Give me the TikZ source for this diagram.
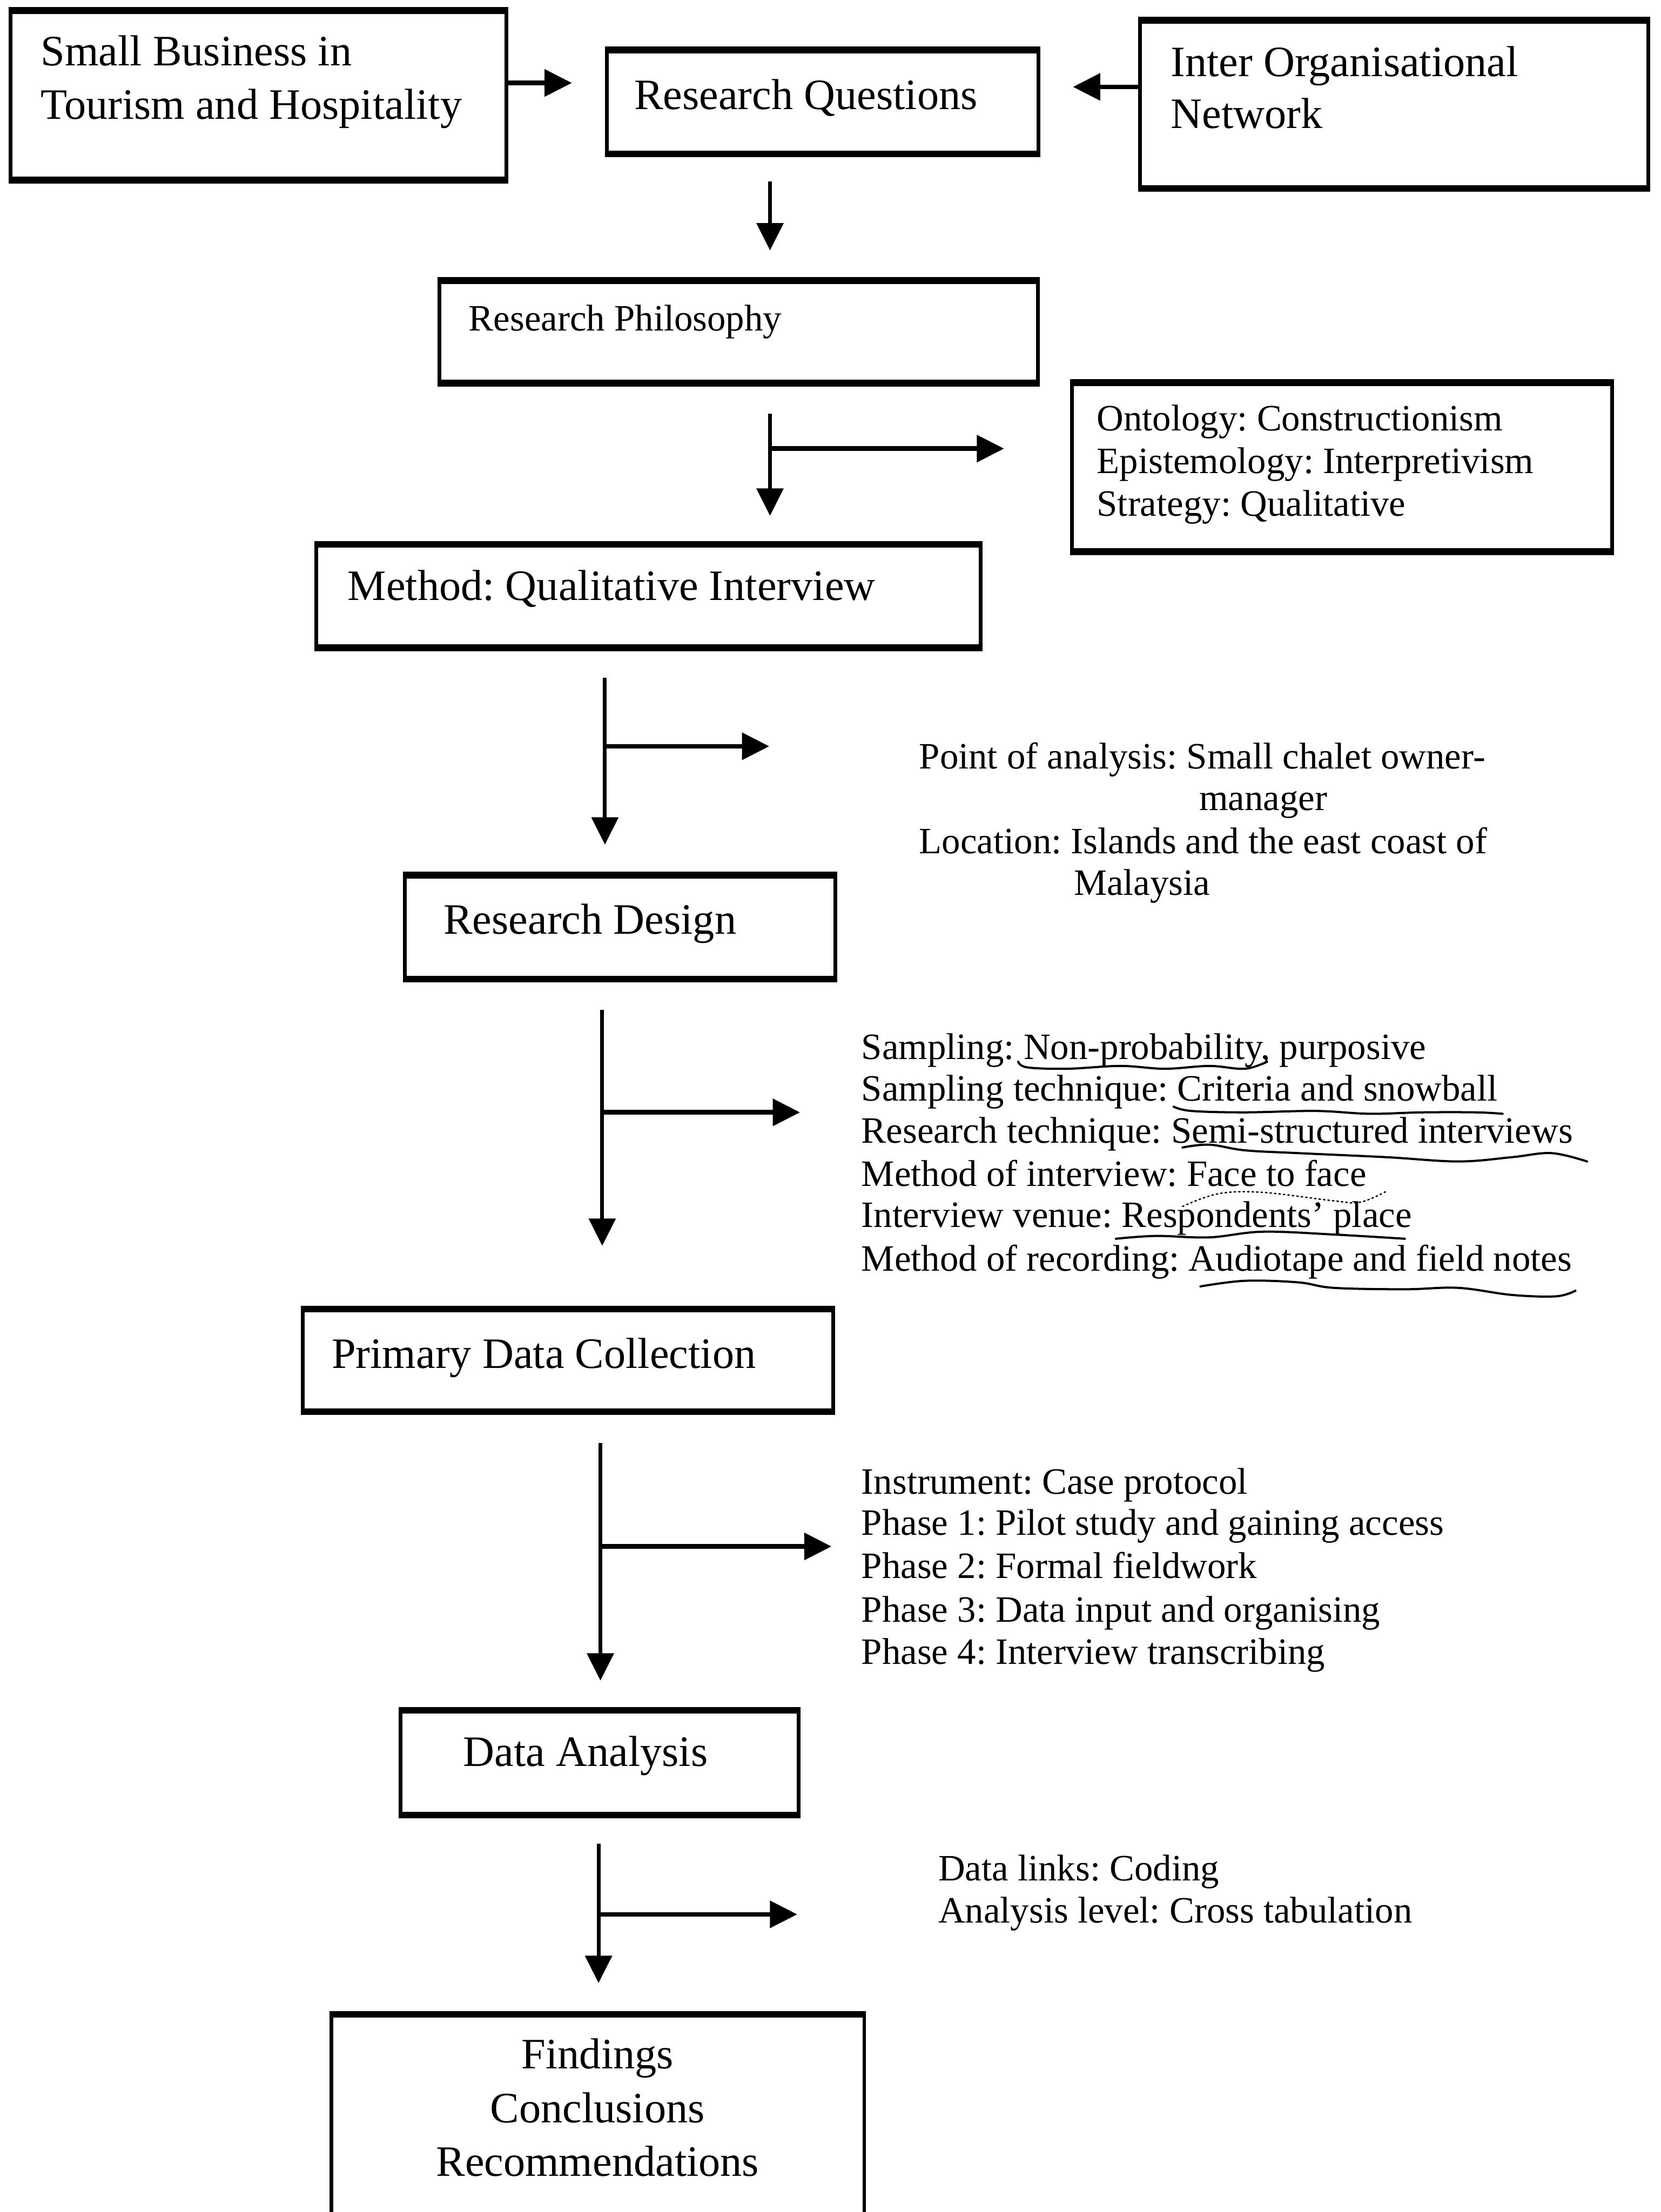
\documentclass[tikz,border=0pt]{standalone}
\usepackage{fontspec}
\setmainfont{Liberation Serif}
\usetikzlibrary{arrows.meta,fit}
\frenchspacing

\begin{document}
\begin{tikzpicture}[x=0.016cm, y=-0.016cm,
  box/.style={draw, line width=1.2pt, inner sep=0pt},
  boxedge/.style={line width=2pt},
  tip/.style={-{Triangle[length=0.31cm,width=0.30cm]}},
  down/.style={tip, line width=1.2pt},
  side/.style={tip, line width=1.5pt},
  big/.style={font=\fontsize{14}{17}\selectfont, anchor=base west, inner sep=0pt},
  bigc/.style={big, anchor=base},
  small/.style={font=\fontsize{12}{14}\selectfont, anchor=base west, inner sep=0pt},
  pen/.style={line width=0.7pt, line cap=round, line join=round},
  faintpen/.style={pen, line width=0.45pt, densely dotted}
]
\useasboundingbox (0,0) rectangle (1177,1568);

% ---- boxes ----
\node[box, fit={(7.5,8.5) (359,126.5)}]        (sbt) {};
\node[box, fit={(430,36.5) (736,108)}]         (rq)  {};
\node[box, fit={(808,15.5) (1168,132.5)}]      (ion) {};
\node[box, fit={(311.5,200) (735.6,270.5)}]    (rp)  {};
\node[box, fit={(759.6,272.4) (1142.4,390)}]   (ont) {};
\node[box, fit={(224,387) (695,458)}]          (mqi) {};
\node[box, fit={(287,621.5) (592,693)}]        (rd)  {};
\node[box, fit={(214.5,929) (590.5,999.5)}]    (pdc) {};
\node[box, fit={(284,1213.5) (566,1285.5)}]    (da)  {};
\node[box, fit={(234.7,1429) (612.5,1572)}]    (fcr) {};

% heavier horizontal edges
\foreach \b in {sbt,rq,ion,rp,ont,mqi,rd,pdc,da,fcr}
  \draw[boxedge] (\b.north west) -- (\b.north east)
                 (\b.south west) -- (\b.south east);

% ---- box labels ----
\node[big] (sbt1) at (28.5,46.6) {Small Business in};
\node[big] (sbt2) at (28.5,84.6) {Tourism and Hospitality};
\node[big] (rq1)  at (449,77.4)  {Research Questions};
\node[big] (ion1) at (829.4,54.3) {Inter Organisational};
\node[big] (ion2) at (829.4,91)   {Network};
\node[small] (rp1) at (331.8,234.3) {Research Philosophy};
\node[small] (ont1) at (776.9,305.2) {Ontology: Constructionism};
\node[small] (ont2) at (776.9,335.4) {Epistemology: Interpretivism};
\node[small] (ont3) at (776.9,365.6) {Strategy: Qualitative};
\node[big] (mqi1) at (246,425.5) {Method: Qualitative Interview};
\node[big] (rd1)  at (314,662.1) {Research Design};
\node[big] (pdc1) at (234.7,969.7) {Primary Data Collection};
\node[big] (da1)  at (327.9,1252) {Data Analysis};
\node[bigc] (fcr1) at (423.5,1466.3) {Findings};
\node[bigc] (fcr2) at (423.5,1504.6) {Conclusions};
\node[bigc] (fcr3) at (423.5,1542.7) {Recommendations};

% ---- side notes ----
\node[small] (pa1) at (651,544.9) {Point of analysis: Small chalet owner-};
\node[small] (pa2) at (849.4,574.4) {manager};
\node[small] (pa3) at (651,605) {Location: Islands and the east coast of};
\node[small] (pa4) at (760.6,634.6) {Malaysia};

\node[small] (sa1) at (610.1,750.7) {Sampling: Non-probability, purposive};
\node[small] (sa2) at (610.1,780.5) {Sampling technique: Criteria and snowball};
\node[small] (sa3) at (610.1,810.4) {Research technique: Semi-structured interviews};
\node[small] (sa4) at (610.1,840.9) {Method of interview: Face to face};
\node[small] (sa5) at (610.1,870.1) {Interview venue: Respondents’ place};
\node[small] (sa6) at (610.1,901)   {Method of recording: Audiotape and field notes};

\node[small] (in1) at (610.1,1059.1) {Instrument: Case protocol};
\node[small] (in2) at (610.1,1088.1) {Phase 1: Pilot study and gaining access};
\node[small] (in3) at (610.1,1118.9) {Phase 2: Formal fieldwork};
\node[small] (in4) at (610.1,1149.6) {Phase 3: Data input and organising};
\node[small] (in5) at (610.1,1179.5) {Phase 4: Interview transcribing};

\node[small] (dl1) at (664.5,1333) {Data links: Coding};
\node[small] (dl2) at (664.5,1363) {Analysis level: Cross tabulation};

% ---- connectors ----
\coordinate (rq-inL) at (405.3,58.8);
\coordinate (rq-inR) at (760.4,61.6);
\draw[side] (sbt.east |- rq-inL) -- (rq-inL);
\draw[side] (ion.west |- rq-inR) -- (rq-inR);

\coordinate (q-top) at (545.7,128.5);
\coordinate (q-end) at (545.7,177.5);
\draw[down] (q-top) -- (q-end);

% vertical arrow with a branch to the right at each stage
\foreach \n/\x/\ya/\yb/\yc/\xe in {
    p/545.7/293.1/365.6/318/711.6,
    m/428.7/480.5/598.7/529/545.2,
    d/426.8/715.8/883.1/788.5/567,
    c/425.5/1022.9/1191.3/1096.2/589.3,
    a/424.2/1307/1405.7/1357/565} {
  \coordinate (\n-top)  at (\x,\ya);
  \coordinate (\n-end)  at (\x,\yb);
  \coordinate (\n-fork) at (\x,\yc);
  \coordinate (\n-tip)  at (\xe,\yc);
  \draw[down] (\n-top) -- (\n-end);
  \draw[side] (\n-fork) -- (\n-tip);
}

% ---- pen underlines ----
\draw[pen] plot[smooth, tension=0.6] coordinates {(721.6,752.6) (728,756.6) (756.2,757.6) (794,755.6) (825.5,757.6) (857,755.6) (882,757.6) (898,752.6)};
\draw[pen] plot[smooth, tension=0.6] coordinates {(831.8,784.5) (844.4,787.5) (882,788.5) (932.6,787.5) (970.4,789.5) (1008.2,788.5) (1046,788.5) (1064.9,789.5)};
\draw[pen] plot[smooth, tension=0.6] coordinates {(838.1,813.4) (857,811.4) (882.2,815.4) (920,817.4) (983,820.3) (1033.4,823.3) (1071.2,820.3) (1099.5,817.4) (1124.7,823.3)};
\draw[faintpen] plot[smooth, tension=0.6] coordinates {(838.1,855.2) (863.3,846.2) (894.8,845.2) (945.2,851.2) (964,852.2) (983,844.2)};
\draw[pen] plot[smooth, tension=0.6] coordinates {(790.8,878.1) (819.2,876.1) (857,877.1) (894.8,873.1) (945.2,875.1) (995.6,878.1)};
\draw[pen] plot[smooth, tension=0.6] coordinates {(850.7,911.9) (882.2,907.9) (920,909) (945.2,912.9) (995.6,913.9) (1033.4,912.9) (1071.2,917.9) (1102.7,918.9) (1116.5,914.9)};
\end{tikzpicture}
\end{document}
